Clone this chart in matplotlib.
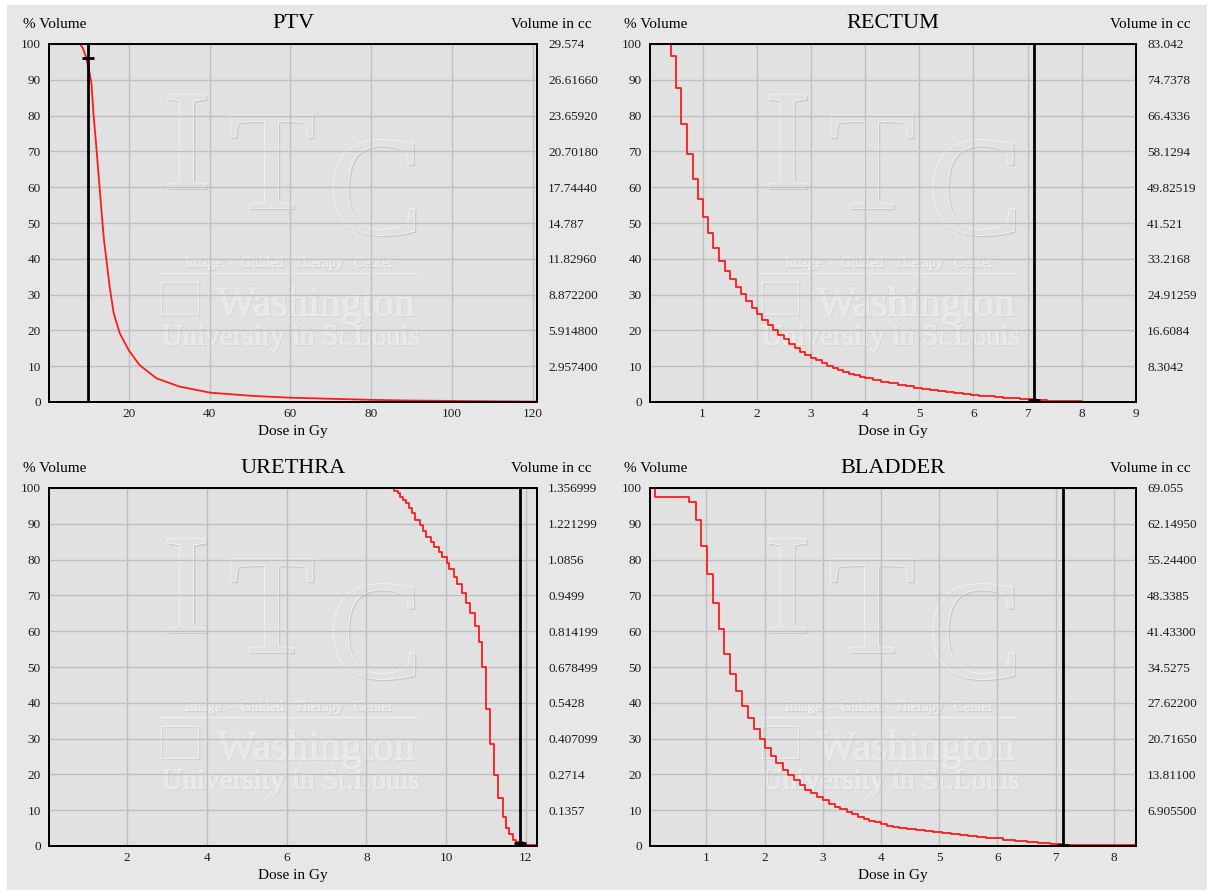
import matplotlib
matplotlib.use('Agg')
import matplotlib.pyplot as plt
import matplotlib.patheffects as pe
from matplotlib.patches import Rectangle

plt.rcParams['font.family'] = ['Liberation Serif', 'DejaVu Serif']

W, H = 1209, 891
BG = '#e7e7e7'
FACE = '#e1e1e1'

# PTV (smooth-ish curve), dose in Gy vs % volume
ptv_dose = [0.3, 8.0, 8.7, 9.4, 10.2, 10.8, 11.3, 12.0, 12.8, 13.4, 13.9, 14.5, 15.3, 16.3,
            17.8, 20.0, 22.7, 26.9, 32.6, 40.2, 50.8, 60, 70, 80, 90, 100, 110, 121]
ptv_vol = [100, 100, 98.8, 96.5, 92.7, 89.0, 80.6, 71.3, 60.1, 51.8, 45.2, 39.7, 32.2, 24.8,
           19.2, 14.5, 10.3, 6.6, 4.3, 2.6, 1.7, 1.2, 0.9, 0.6, 0.4, 0.3, 0.2, 0.1]

# step curves: dose where each level starts, level in %
rectum_dose = [0.03, 0.417, 0.502, 0.60, 0.705, 0.815, 0.92, 1.0, 1.10, 1.20, 1.31, 1.41, 1.51,
               1.61, 1.705, 1.80, 1.91, 2.006, 2.105, 2.20, 2.30, 2.40, 2.50, 2.60, 2.71, 2.80,
               2.90, 3.0, 3.1, 3.2, 3.3, 3.4, 3.5, 3.6, 3.7, 3.8, 3.9, 4.0, 4.15, 4.3, 4.45,
               4.6, 4.75, 4.9, 5.05, 5.2, 5.35, 5.5, 5.65, 5.8, 5.95, 6.1, 6.25, 6.4, 6.55,
               6.7, 6.85, 7.0, 7.15, 7.35, 7.6, 8.0, 8.98]
rectum_vol = [100, 96.7, 87.8, 77.7, 69.2, 62.2, 56.8, 51.7, 47.1, 42.9, 39.4, 36.6, 34.4,
              32.1, 30.1, 28.1, 26.3, 24.7, 23.0, 21.4, 20.0, 18.7, 17.5, 16.3, 15.2, 14.1,
              13.1, 12.4, 11.6, 10.8, 10.1, 9.5, 8.9, 8.4, 7.9, 7.5, 7.1, 6.7, 6.2, 5.7, 5.2,
              4.8, 4.4, 4.0, 3.6, 3.3, 3.0, 2.7, 2.5, 2.2, 2.0, 1.8, 1.6, 1.4, 1.2,
              1.0, 0.9, 0.8, 0.6, 0.4, 0.2, 0.1, 0.1]

urethra_dose = [0.04, 8.69, 8.80, 8.84, 8.92, 9.00, 9.08, 9.15, 9.22, 9.34, 9.42, 9.49, 9.61,
                9.69, 9.81, 9.89, 10.02, 10.07, 10.20, 10.28, 10.39, 10.49, 10.61, 10.72,
                10.83, 10.89, 11.0, 11.10, 11.21, 11.30, 11.42, 11.50, 11.58, 11.67, 11.75,
                11.92, 12.05, 12.28]
urethra_vol = [100, 99.2, 98.5, 97.6, 96.6, 95.7, 94.3, 93.1, 91.1, 89.7, 88.0, 86.4, 85.0,
               83.6, 82.2, 80.6, 79.0, 77.3, 75.2, 73.1, 70.6, 68.0, 65.0, 61.5,
               57.1, 50.1, 38.2, 28.5, 19.8, 13.3, 8.2, 4.9, 3.3, 1.7, 1.0,
               0.3, 0.2, 0.2]

bladder_dose = [0.03, 0.11, 0.70, 0.82, 0.91, 1.01, 1.11, 1.21, 1.30, 1.40, 1.50, 1.61, 1.71,
                1.81, 1.92, 2.01, 2.11, 2.20, 2.31, 2.40, 2.50, 2.60, 2.70, 2.80, 2.90, 3.0,
                3.10, 3.20, 3.30, 3.41, 3.50, 3.60, 3.70, 3.80, 3.90, 4.0, 4.1, 4.2, 4.3,
                4.45, 4.6, 4.75, 4.9, 5.05, 5.2, 5.35, 5.5, 5.65, 5.8, 5.95, 6.1, 6.3, 6.5,
                6.7, 6.9, 7.1, 7.3, 8.38]
bladder_vol = [100, 97.4, 96.1, 91.1, 83.8, 75.9, 68.0, 60.6, 53.7, 48.0, 43.3, 39.2, 35.7,
               32.6, 29.8, 27.3, 25.1, 23.1, 21.2, 19.8, 18.3, 17.0, 15.7, 14.7, 13.8, 12.8,
               11.8, 11.0, 10.2, 9.5, 8.8, 8.2, 7.6, 7.1, 6.6, 6.1, 5.7, 5.4, 5.1,
               4.7, 4.4, 4.1, 3.9, 3.6, 3.3, 3.0, 2.7, 2.5, 2.3, 2.1, 1.8, 1.5, 1.1,
               0.8, 0.6, 0.4, 0.2, 0.2]

ptv_cc = ['29.574', '26.61660', '23.65920', '20.70180', '17.74440', '14.787', '11.82960',
          '8.872200', '5.914800', '2.957400']
rectum_cc = ['83.042', '74.7378', '66.4336', '58.1294', '49.82519', '41.521', '33.2168',
             '24.91259', '16.6084', '8.3042']
urethra_cc = ['1.356999', '1.221299', '1.0856', '0.9499', '0.814199', '0.678499', '0.5428',
              '0.407099', '0.2714', '0.1357']
bladder_cc = ['69.055', '62.14950', '55.24400', '48.3385', '41.43300', '34.5275', '27.62200',
              '20.71650', '13.81100', '6.905500']

ptv_ticks = [20, 40, 60, 80, 100, 120]
rectum_ticks = [1, 2, 3, 4, 5, 6, 7, 8, 9]
urethra_ticks = [2, 4, 6, 8, 10, 12]
bladder_ticks = [1, 2, 3, 4, 5, 6, 7, 8]

# reference dose line and where it cuts the curve
ptv_ref, ptv_ref_vol = 9.9, 96.0
rectum_ref, rectum_ref_vol = 7.12, 0.6
urethra_ref, urethra_ref_vol = 11.86, 0.8
bladder_ref, bladder_ref_vol = 7.12, 0.4

panels = [
    ('PTV', (49, 44, 537, 402), (0.3, 121), ptv_ticks, ptv_cc, ptv_dose, ptv_vol, False, ptv_ref, ptv_ref_vol),
    ('RECTUM', (650, 44, 1136, 402), (0.03, 8.98), rectum_ticks, rectum_cc, rectum_dose, rectum_vol, True, rectum_ref, rectum_ref_vol),
    ('URETHRA', (49, 488, 537, 846), (0.04, 12.28), urethra_ticks, urethra_cc, urethra_dose, urethra_vol, True, urethra_ref, urethra_ref_vol),
    ('BLADDER', (650, 488, 1136, 846), (0.03, 8.38), bladder_ticks, bladder_cc, bladder_dose, bladder_vol, True, bladder_ref, bladder_ref_vol),
]


def watermark(ax):
    big = [pe.Stroke(linewidth=1.0, foreground='#c8c8c8', offset=(1, -1)),
           pe.Stroke(linewidth=1.0, foreground='#f6f6f6'), pe.Normal()]
    soft = [pe.Stroke(linewidth=0.5, foreground='#cfcfcf', offset=(0.8, -0.8)),
            pe.Stroke(linewidth=0.5, foreground='#f2f2f2'), pe.Normal()]
    kw = dict(transform=ax.transAxes, zorder=0.2, ha='center', va='baseline', clip_on=True)
    for ch, x, y in [('I', 0.282, 0.598), ('T', 0.456, 0.542), ('C', 0.668, 0.470)]:
        ax.text(x, y, ch, fontsize=102, color=FACE, path_effects=big, **kw)
    ax.text(0.491, 0.378, 'Image  -  Guided   Therapy   Center', fontsize=10.5,
            color='#e9e9e9', path_effects=soft, **kw)
    ax.plot([0.227, 0.754], [0.3595, 0.3595], transform=ax.transAxes, color='#efefef',
            lw=1, zorder=0.2)
    ax.add_patch(Rectangle((0.230, 0.247), 0.075, 0.088, transform=ax.transAxes,
                           facecolor='none', edgecolor='#eeeeee', lw=1.0, zorder=0.2,
                           path_effects=[pe.Stroke(linewidth=1.0, foreground='#cdcdcd',
                                                   offset=(0.8, -0.8)), pe.Normal()]))
    ax.text(0.547, 0.242, 'Washington', fontsize=30, color='#e8e8e8', path_effects=soft, **kw)
    ax.text(0.495, 0.160, 'University in St.Louis', fontsize=21, color='#e8e8e8',
            path_effects=soft, **kw)


fig = plt.figure(figsize=(W / 100, H / 100), dpi=100, facecolor='white')
fig.patches.append(Rectangle((7 / W, 1 / H), 1200 / W, 885 / H, transform=fig.transFigure,
                             facecolor=BG, edgecolor='none', zorder=-10))

for name, (l, t, r, b), xlim, xticks, cc, dose, vol, stepped, ref, ref_vol in panels:
    ax = fig.add_axes([l / W, 1 - b / H, (r - l) / W, (b - t) / H])
    ax.set_facecolor(FACE)
    ax.set_xlim(*xlim)
    ax.set_ylim(0, 100)
    ax.set_xticks(xticks)
    ax.set_yticks(range(0, 101, 10))
    ax.set_axisbelow(True)
    ax.grid(color='#bfbfbf', linewidth=1)
    ax.tick_params(axis='x', length=0, pad=4, labelsize=9.5, labelcolor='#1e1e1e')
    ax.tick_params(axis='y', length=0, pad=6, labelsize=9.5, labelcolor='#1e1e1e')
    for s in ax.spines.values():
        s.set_linewidth(1.3)
    watermark(ax)

    if stepped:
        ax.step(dose, vol, where='post', color='#ff1a1a', lw=1.3, zorder=2, clip_on=False)
    else:
        ax.plot(dose, vol, color='#ff1a1a', lw=1.3, zorder=2, clip_on=False)
    ax.axvline(ref, color='black', lw=2, zorder=3)
    ax.plot([ref], [ref_vol], marker='_', ms=9, mew=2, color='black', zorder=4)

    ax2 = ax.twinx()
    ax2.set_ylim(0, 100)
    ax2.set_yticks(range(100, 0, -10))
    ax2.set_yticklabels(cc)
    ax2.tick_params(axis='y', length=0, pad=8, labelsize=9.5, labelcolor='#1e1e1e')
    for s in ax2.spines.values():
        s.set_linewidth(1.3)

    cx = (l + r) / 2
    fig.text(cx / W, 1 - (t - 20) / H, name, fontsize=16, ha='center', va='center')
    fig.text((l - 26) / W, 1 - (t - 20) / H, '% Volume', fontsize=11, ha='left', va='center')
    fig.text((r + 55) / W, 1 - (t - 20) / H, 'Volume in cc', fontsize=11, ha='right', va='center')
    fig.text(cx / W, 1 - (b + 29) / H, 'Dose in Gy', fontsize=11, ha='center', va='center')

fig.savefig('out.png', dpi=100, facecolor='white')
